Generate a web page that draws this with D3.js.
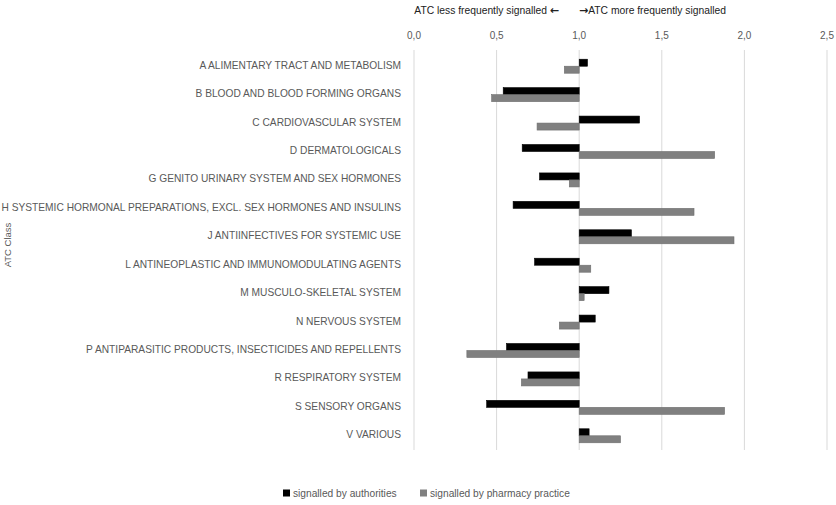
<!DOCTYPE html>
<html>
<head>
<meta charset="utf-8">
<script src="https://cdn.jsdelivr.net/npm/d3@7"></script>
<style>
  body { margin: 0; background: #fff; }
  svg { display: block; font-family: "Liberation Sans", Arial, sans-serif; }
</style>
</head>
<body>
<div class="vis"></div>
<script>
// ATC classes, top to bottom
const categories = [
  "A ALIMENTARY TRACT AND METABOLISM",
  "B BLOOD AND BLOOD FORMING ORGANS",
  "C CARDIOVASCULAR SYSTEM",
  "D DERMATOLOGICALS",
  "G GENITO URINARY SYSTEM AND SEX HORMONES",
  "H SYSTEMIC HORMONAL PREPARATIONS, EXCL. SEX HORMONES AND INSULINS",
  "J ANTIINFECTIVES FOR SYSTEMIC USE",
  "L ANTINEOPLASTIC AND IMMUNOMODULATING AGENTS",
  "M MUSCULO-SKELETAL SYSTEM",
  "N NERVOUS SYSTEM",
  "P ANTIPARASITIC PRODUCTS, INSECTICIDES AND REPELLENTS",
  "R RESPIRATORY SYSTEM",
  "S SENSORY ORGANS",
  "V VARIOUS"
];
const authorities = [1.05, 0.54, 1.365, 0.655, 0.76, 0.60, 1.316, 0.73, 1.18, 1.097, 0.56, 0.69, 0.44, 1.06];
const pharmacy    = [0.91, 0.47, 0.745, 1.82, 0.94, 1.695, 1.937, 1.07, 1.03, 0.88, 0.32, 0.65, 1.88, 1.25];
const seriesNames = ["signalled by authorities", "signalled by pharmacy practice"];
const tickValues = [0, 0.5, 1, 1.5, 2, 2.5];
const baseline = 1;

const W = 836, H = 505;
const plot = { left: 414, right: 827, top: 52, bottom: 450 };

const svg = d3.select(".vis").append("svg").attr("width", W).attr("height", H);

const x = d3.scaleLinear().domain([0, 2.5]).range([plot.left, plot.right]);
const y = d3.scaleBand().domain(categories).range([plot.top, plot.bottom]);

// gridlines
svg.append("g").selectAll("line").data(tickValues).join("line")
  .attr("x1", d => x(d)).attr("x2", d => x(d))
  .attr("y1", plot.top - 2).attr("y2", plot.bottom)
  .attr("stroke", "#d9d9d9").attr("stroke-width", 1);

// top axis labels
const fmt = d => d.toFixed(1).replace(".", ",");
svg.append("g").selectAll("text").data(tickValues).join("text")
  .attr("x", d => x(d)).attr("y", 39)
  .attr("text-anchor", "middle")
  .attr("font-size", 10).attr("fill", "#595959")
  .text(fmt);

// header direction notes
const left = svg.append("text").attr("x", 559).attr("y", 14).attr("text-anchor", "end")
  .attr("font-size", 10.3).attr("fill", "#222");
left.append("tspan").text("ATC less frequently signalled ");
left.append("tspan").attr("font-family", "DejaVu Sans").attr("font-weight", "bold")
  .attr("font-size", 11).text("\u2190");
const right = svg.append("text").attr("x", 579).attr("y", 14)
  .attr("font-size", 10.3).attr("fill", "#222");
right.append("tspan").attr("font-family", "DejaVu Sans").attr("font-weight", "bold")
  .attr("font-size", 11).text("\u2192");
right.append("tspan").text("ATC more frequently signalled");

// category labels
svg.append("g").selectAll("text").data(categories).join("text")
  .attr("x", 401).attr("y", d => y(d) + y.bandwidth() / 2 - 1)
  .attr("dy", "0.35em").attr("text-anchor", "end")
  .attr("font-size", 10.2).attr("fill", "#595959")
  .text(d => d);

// y axis title
svg.append("text")
  .attr("transform", "translate(11,245) rotate(-90)")
  .attr("text-anchor", "middle")
  .attr("font-size", 9.5).attr("fill", "#595959")
  .text("ATC Class");

// bars (from baseline 1.0)
const barH = 7;
const series = [
  { name: seriesNames[0], values: authorities, fill: "#000000", stroke: "#000000", off: -barH },
  { name: seriesNames[1], values: pharmacy, fill: "#808080", stroke: "#6e6e6e", off: 0 }
];
series.forEach(s => {
  svg.append("g").selectAll("rect").data(s.values).join("rect")
    .attr("x", d => x(Math.min(d, baseline)))
    .attr("width", d => Math.abs(x(d) - x(baseline)))
    .attr("y", (d, i) => y(categories[i]) + y.bandwidth() / 2 + s.off)
    .attr("height", barH)
    .attr("fill", s.fill)
    .attr("stroke", s.stroke).attr("stroke-width", 0.6);
});

// legend
const legend = svg.append("g");
const legX = [283, 420];
series.forEach((s, i) => {
  legend.append("rect").attr("x", legX[i]).attr("y", 489.5)
    .attr("width", 7).attr("height", 7).attr("fill", s.fill);
  legend.append("text").attr("x", legX[i] + 10).attr("y", 497)
    .attr("font-size", 10.2).attr("fill", "#595959")
    .text(s.name);
});
</script>
</body>
</html>
